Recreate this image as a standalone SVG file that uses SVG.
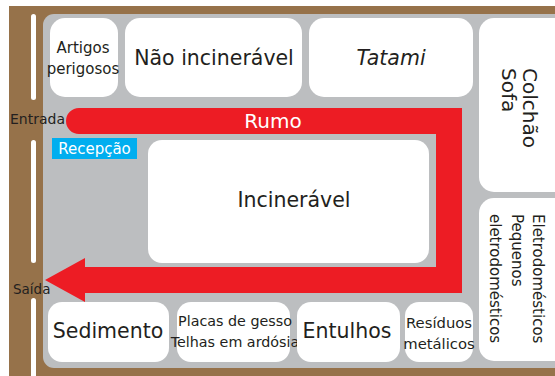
<svg xmlns="http://www.w3.org/2000/svg" width="555" height="376" viewBox="0 0 555 376">
<style>
text{font-family:"DejaVu Sans","Verdana",sans-serif;fill:#231F20}
.box{fill:#ffffff}
.c{text-anchor:middle}
.w{fill:#ffffff}
.door{fill:#ffffff}
</style>
<rect x="0" y="0" width="555" height="376" fill="#ffffff"/>
<rect x="9" y="6" width="560" height="380" fill="#96724A"/>
<rect x="43" y="14" width="530" height="354" rx="11" fill="#BCBEC0"/>
<rect class="door" x="31" y="14" width="5" height="86" rx="2.5"/>
<rect class="door" x="31" y="140" width="5" height="123" rx="2.5"/>
<rect class="door" x="31" y="298" width="5" height="90" rx="2.5"/>
<text x="10" y="124" font-size="14">Entrada</text>
<text x="13" y="294" font-size="13.5">Saída</text>
<g id="artigos"><rect class="box" x="50" y="18" width="68" height="79" rx="15"/><text class="c" x="83" y="53" font-size="15">Artigos</text><text class="c" x="83" y="74" font-size="15">perigosos</text></g>
<g id="nao-incineravel"><rect class="box" x="125" y="18" width="177" height="79" rx="15"/><text class="c" x="214" y="65" font-size="20.5">Não incinerável</text></g>
<g id="tatami"><rect class="box" x="309" y="18" width="164" height="79" rx="15"/><text class="c" x="391" y="65" font-size="20.5" font-style="italic">Tatami</text></g>
<g id="colchao"><rect class="box" x="479" y="18" width="90" height="174" rx="15"/><text transform="translate(523,68) rotate(90)" font-size="20">Colchão</text><text transform="translate(502,68) rotate(90)" font-size="20">Sofa</text></g>
<g id="eletro"><rect class="box" x="479" y="198" width="90" height="163" rx="15"/><text transform="translate(533,214) rotate(90)" font-size="15">Eletrodomésticos</text><text transform="translate(512,214) rotate(90)" font-size="15">Pequenos</text><text transform="translate(490,214) rotate(90)" font-size="15">eletrodomésticos</text></g>
<g id="connectors">
<path d="M79,108 H462 V293 H85 V302 L45,280 L85,258 V267 H436 V134 H79 A13,13 0 0 1 79,108 Z" fill="#ED1C24"/>
<text class="c w" x="273" y="128" font-size="20">Rumo</text>
</g>
<g id="recepcao"><rect x="52" y="138" width="85" height="21" fill="#00AEEF"/><text class="c w" x="94.5" y="154" font-size="15">Recepção</text></g>
<g id="incineravel"><rect class="box" x="148" y="140" width="281" height="123" rx="14"/><text class="c" x="294" y="207" font-size="20.5">Incinerável</text></g>
<g id="sedimento"><rect class="box" x="48" y="302" width="121" height="60" rx="14"/><text class="c" x="108" y="338" font-size="20.5">Sedimento</text></g>
<g id="placas"><rect class="box" x="177" y="302" width="113" height="60" rx="14"/><text class="c" x="235" y="326" font-size="14.3">Placas de gesso</text><text class="c" x="235" y="347" font-size="14.3">Telhas em ardósia</text></g>
<g id="entulhos"><rect class="box" x="297" y="302" width="103" height="60" rx="14"/><text class="c" x="347" y="338" font-size="20.5">Entulhos</text></g>
<g id="residuos"><rect class="box" x="405" y="302" width="68" height="60" rx="14"/><text class="c" x="439" y="328" font-size="14.8">Resíduos</text><text class="c" x="439" y="349" font-size="14.8">metálicos</text></g>
</svg>
